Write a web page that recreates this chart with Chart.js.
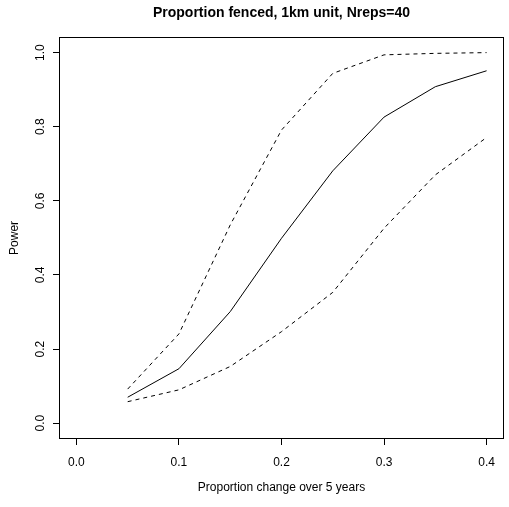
<!DOCTYPE html>
<html>
<head>
<meta charset="utf-8">
<script src="https://cdn.jsdelivr.net/npm/chart.js@4"></script>
<style>
  html, body { margin: 0; padding: 0; background: #fff; }
  #plot { display: block; }
</style>
</head>
<body>
<canvas id="plot" width="509" height="507"></canvas>
<script>
// effect sizes (proportion change over 5 years)
const change = [0.05, 0.10, 0.15, 0.20, 0.25, 0.30, 0.35, 0.40];
// estimated power and its upper / lower bounds
const power = [0.070, 0.147, 0.301, 0.499, 0.681, 0.826, 0.908, 0.951];
const upper = [0.092, 0.241, 0.535, 0.791, 0.944, 0.994, 0.998, 1.000];
const lower = [0.058, 0.090, 0.153, 0.247, 0.353, 0.526, 0.670, 0.771];
const xTicks = [0, 0.1, 0.2, 0.3, 0.4];
const yTicks = [0, 0.2, 0.4, 0.6, 0.8, 1.0];

const FONT = 'Liberation Sans, Arial, Helvetica, sans-serif';

function pts(ys) {
  return change.map((x, i) => ({ x: x, y: ys[i] }));
}

function line(label, ys, dash) {
  return {
    label: label,
    data: pts(ys),
    borderColor: '#000',
    borderWidth: 1,
    borderDash: dash,
    pointRadius: 0,
    tension: 0,
    fill: false
  };
}

// frame around the plotting region
const boxPlugin = {
  id: 'box',
  afterDraw(chart) {
    const a = chart.chartArea;
    const c = chart.ctx;
    c.save();
    c.strokeStyle = '#000';
    c.lineWidth = 1;
    c.strokeRect(Math.round(a.left) - 0.5, Math.round(a.top) - 0.5,
      Math.round(a.right - a.left) + 1, Math.round(a.bottom - a.top) + 1);
    c.restore();
  }
};

Chart.defaults.font.family = FONT;
Chart.defaults.color = '#000';

new Chart(document.getElementById('plot'), {
  type: 'line',
  data: {
    datasets: [
      line('upper', upper, [4, 4]),
      line('power', power, []),
      line('lower', lower, [4, 4])
    ]
  },
  options: {
    responsive: false,
    animation: false,
    layout: { padding: { right: 6 } },
    plugins: {
      legend: { display: false },
      tooltip: { enabled: false },
      title: {
        display: true,
        fullSize: false,
        text: 'Proportion fenced, 1km unit, Nreps=40',
        color: '#000',
        font: { size: 14, weight: 'bold', family: FONT },
        padding: { top: 5, bottom: 16 }
      }
    },
    scales: {
      x: {
        type: 'linear',
        min: -0.016,
        max: 0.416,
        afterBuildTicks(s) { s.ticks = xTicks.map(v => ({ value: v })); },
        afterFit(s) { s.height = 69; },
        grid: { drawOnChartArea: false, drawTicks: true, tickLength: 7, color: '#000' },
        border: { display: false },
        ticks: {
          padding: 10,
          maxRotation: 0,
          font: { size: 12 },
          callback: v => v.toFixed(1)
        },
        title: {
          display: true,
          text: 'Proportion change over 5 years',
          font: { size: 12 },
          padding: { top: 0, bottom: 12 }
        }
      },
      y: {
        type: 'linear',
        min: -0.04,
        max: 1.04,
        afterBuildTicks(s) { s.ticks = yTicks.map(v => ({ value: v })); },
        afterFit(s) { s.width = 60; },
        grid: { drawOnChartArea: false, drawTicks: true, tickLength: 7, color: '#000' },
        border: { display: false },
        ticks: {
          padding: 4,
          minRotation: 90,
          maxRotation: 90,
          crossAlign: 'center',
          font: { size: 12 },
          callback: v => v.toFixed(1)
        },
        title: {
          display: true,
          text: 'Power',
          font: { size: 12 },
          padding: { top: 7, bottom: 0 }
        }
      }
    }
  },
  plugins: [boxPlugin]
});
</script>
</body>
</html>
